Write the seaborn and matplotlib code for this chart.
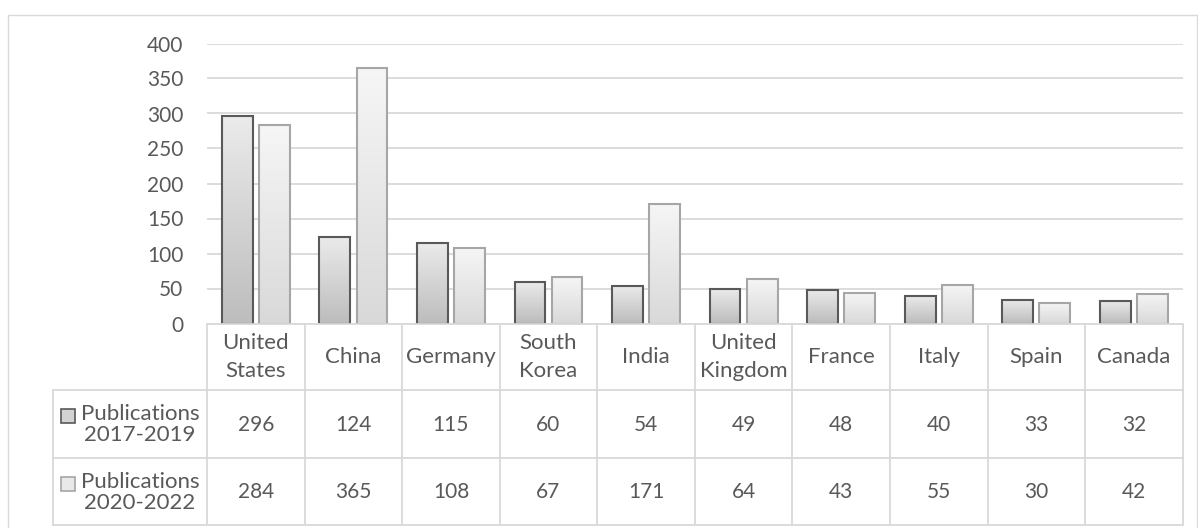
import numpy as np
import pandas as pd
import matplotlib
matplotlib.use("Agg")
import matplotlib.pyplot as plt
import seaborn as sns
from matplotlib.lines import Line2D
from matplotlib.patches import Rectangle

# ---------------- data ----------------
countries = ["United States", "China", "Germany", "South Korea", "India",
             "United Kingdom", "France", "Italy", "Spain", "Canada"]
pub_2017_2019 = [296, 124, 115, 60, 54, 49, 48, 40, 33, 32]
pub_2020_2022 = [284, 365, 108, 67, 171, 64, 43, 55, 30, 42]
series_names = ["Publications 2017-2019", "Publications 2020-2022"]
series_labels = ["Publications\n2017-2019", "Publications\n2020-2022"]
y_ticks = [0, 50, 100, 150, 200, 250, 300, 350, 400]

# ---------------- style ----------------
sns.set_theme(style="white")
plt.rcParams['font.family'] = ['Lato', 'DejaVu Sans']
TXT = "#595959"
GRID = "#d9d9d9"
FS_NUM = 15
FS_TXT = 16

W, H = 1198, 528
fig = plt.figure(figsize=(W / 100, H / 100), dpi=100)


def fx(px):
    return px / W


def fy(py):
    return 1 - py / H


ax_l, ax_r, ax_t, ax_b = 207, 1182.7, 43.5, 323.5
ax = fig.add_axes([fx(ax_l), fy(ax_b), (ax_r - ax_l) / W, (ax_b - ax_t) / H])

df = pd.DataFrame({
    "country": countries * 2,
    "value": pub_2017_2019 + pub_2020_2022,
    "series": [series_names[0]] * len(countries) + [series_names[1]] * len(countries),
})

sns.barplot(data=df, x="country", y="value", hue="series", order=countries,
            hue_order=series_names, palette=["#d0d0d0", "#e8e8e8"],
            width=0.76, gap=0.17, errorbar=None, legend=False, ax=ax)

edge_cols = ["#595959", "#a6a6a6"]
grad_cols = [("#ebebeb", "#bdbdbd"), ("#f6f6f6", "#d9d9d9")]


def hex2rgb(h):
    h = h.lstrip("#")
    return np.array([int(h[i:i + 2], 16) / 255 for i in (0, 2, 4)])


for i, cont in enumerate(ax.containers):
    top_c, bot_c = hex2rgb(grad_cols[i][0]), hex2rgb(grad_cols[i][1])
    t = np.linspace(0, 1, 128)[:, None]
    grad = (top_c[None, :] * (1 - t) + bot_c[None, :] * t)[:, None, :]
    for bar in cont:
        x, y0 = bar.get_x(), bar.get_y()
        w, h = bar.get_width(), bar.get_height()
        bar.set_facecolor("none")
        bar.set_edgecolor(edge_cols[i])
        bar.set_linewidth(1.5)
        bar.set_zorder(3)
        im = ax.imshow(grad, extent=[x, x + w, y0, y0 + h], aspect="auto",
                       origin="upper", zorder=2, interpolation="bilinear")
        im.set_clip_path(bar)

ax.set_xlim(-0.5, len(countries) - 0.5)
ax.set_ylim(0, 400)
ax.set_yticks(y_ticks)
ax.set_yticklabels([str(v) for v in y_ticks])
ax.tick_params(axis="y", length=0, pad=17, labelsize=FS_NUM, labelcolor=TXT)
ax.set_xticks([])
ax.set_xlabel("")
ax.set_ylabel("")
ax.yaxis.grid(True, color=GRID, lw=1.3)
ax.set_axisbelow(True)
for s in ax.spines.values():
    s.set_visible(False)

# ---------------- outer border ----------------
for (x0, y0_, x1, y1_) in [(7.5, 14.5, 1197, 14.5), (7.5, 14.5, 7.5, 540),
                           (1197, 14.5, 1197, 540)]:
    fig.add_artist(Line2D([fx(x0), fx(x1)], [fy(y0_), fy(y1_)], color=GRID, lw=1.0))

# ---------------- data table ----------------
row_y = [323.5, 390, 457.7, 525]
leg_l = 53
n = len(countries)
col_w = (ax_r - ax_l) / n


def hline(x0, x1, y):
    fig.add_artist(Line2D([fx(x0), fx(x1)], [fy(y), fy(y)], color=GRID, lw=1.3))


def vline(x, y0, y1):
    fig.add_artist(Line2D([fx(x), fx(x)], [fy(y0), fy(y1)], color=GRID, lw=1.3))


hline(ax_l, ax_r, row_y[0])
for yy in row_y[1:]:
    hline(leg_l, ax_r, yy)
vline(leg_l, row_y[1], row_y[3])
for k in range(n + 1):
    vline(ax_l + k * col_w, row_y[0], row_y[3])

# header labels
for k, c in enumerate(countries):
    cx = ax_l + (k + 0.5) * col_w
    fig.text(fx(cx), fy((row_y[0] + row_y[1]) / 2), c.replace(" ", "\n"),
             ha="center", va="center", ma="center", fontsize=FS_TXT, color=TXT,
             linespacing=1.5)

# value rows
for r, vals in enumerate([pub_2017_2019, pub_2020_2022]):
    cy = (row_y[r + 1] + row_y[r + 2]) / 2
    for k, v in enumerate(vals):
        cx = ax_l + (k + 0.5) * col_w
        fig.text(fx(cx), fy(cy + 1), str(v), ha="center", va="center",
                 fontsize=FS_NUM, color=TXT)
    # legend label
    fig.text(fx(140), fy(cy + 1), series_labels[r], ha="center", va="center",
             ma="center", fontsize=FS_TXT, color=TXT, linespacing=1.06)
    # legend key
    ky = cy - 7.5
    fig.add_artist(Rectangle((fx(61), fy(ky + 7)), 14 / W, 14 / H,
                             transform=fig.transFigure,
                             facecolor=["#d2d2d2", "#e9e9e9"][r],
                             edgecolor=edge_cols[r], lw=1.2))

fig.savefig("out.png", dpi=100)
